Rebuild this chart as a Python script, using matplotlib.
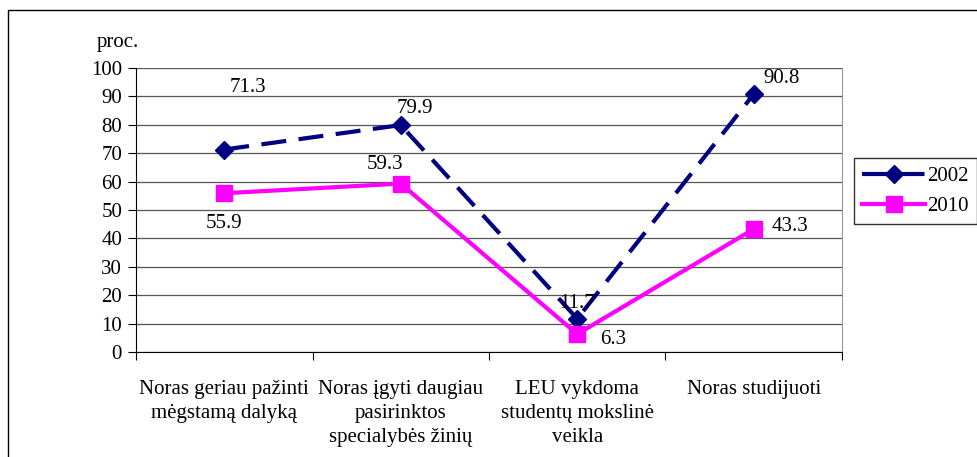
import matplotlib.pyplot as plt
from matplotlib.patches import Rectangle

categories = ['Noras geriau pažinti\nmėgstamą dalyką',
              'Noras įgyti daugiau\npasirinktos\nspecialybės žinių',
              'LEU vykdoma\nstudentų mokslinė\nveikla',
              'Noras studijuoti']
y2002 = [71.3, 79.9, 11.7, 90.8]
y2010 = [55.9, 59.3, 6.3, 43.3]

plt.rcParams['font.family'] = ['Liberation Serif', 'DejaVu Serif']
plt.rcParams['font.size'] = 15

W, H = 978, 457
fig = plt.figure(figsize=(W / 100, H / 100), dpi=100)
ax = fig.add_axes([136 / W, 1 - 352 / H, (842 - 136) / W, (352 - 68) / H])

x = [0.5, 1.5, 2.5, 3.5]
ax.plot(x, y2002, color='#000080', lw=3, ls=(0, (6, 3)), marker='D', ms=9,
        label='2002', zorder=3)
ax.plot(x, y2010, color='#ff00ff', lw=3, marker='s', ms=12,
        label='2010', zorder=4)

ax.set_xlim(0, 4)
ax.set_ylim(0, 100)
ax.set_yticks(range(0, 101, 10))
ax.set_xticks([0, 1, 2, 3, 4])
ax.set_xticklabels([])
ax.set_xticks(x, minor=True)
ax.set_xticklabels(categories, minor=True, linespacing=1.35)
ax.tick_params(axis='x', which='minor', length=0, pad=20)
ax.tick_params(axis='x', which='major', length=6, direction='out', color='black')
ax.tick_params(axis='y', length=6, direction='out', pad=4)
ax.grid(axis='y', color='#555555', lw=0.9)
ax.spines['top'].set_visible(False)
ax.spines['right'].set_color('#999999')
ax.spines['left'].set_color('black')
ax.spines['bottom'].set_color('black')
ax.set_axisbelow(True)

# data labels (offsets in points)
offs2002 = [(17, 45), (10, 12), (0, 11), (20, 11)]
offs2010 = [(0, -22), (-11, 14), (26, -4), (26, 2)]
for xi, v, (dx, dy) in zip(x, y2002, offs2002):
    ax.annotate(f'{v}', (xi, v), xytext=(dx, dy), textcoords='offset points',
                ha='center', va='center', zorder=5)
for xi, v, (dx, dy) in zip(x, y2010, offs2010):
    ax.annotate(f'{v}', (xi, v), xytext=(dx, dy), textcoords='offset points',
                ha='center', va='center', zorder=5)

fig.text(118 / W, 1 - 42 / H, 'proc.', ha='center', va='center')

leg = fig.legend(loc='upper left', bbox_to_anchor=(854 / W, 1 - 158 / H),
                 frameon=True, fancybox=False, edgecolor='black',
                 handlelength=3.0, borderpad=0.4, labelspacing=0.5,
                 handletextpad=0.1, borderaxespad=0)
leg.get_frame().set_linewidth(1)

fig.patches.append(Rectangle((8 / W, -0.1), (W - 8) / W, 1 - 10 / H + 0.1,
                             transform=fig.transFigure, fill=False,
                             edgecolor='black', lw=1))

fig.savefig('out.png', dpi=100)
